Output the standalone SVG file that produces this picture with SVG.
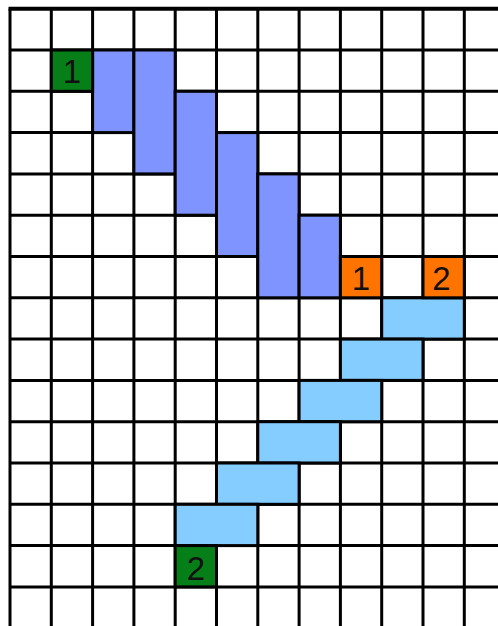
<svg xmlns="http://www.w3.org/2000/svg" width="498" height="626" viewBox="0 0 498 626">
<style>
.g{stroke:#000;stroke-width:3;fill:none}
.c{stroke:#000;stroke-width:3}
.bl{fill:#8094FF}
.lb{fill:#85CCFF}
.gr{fill:#077F19}
.or{fill:#FF7300}
.t{font-family:"Liberation Sans",Arial,sans-serif;font-size:33px;fill:#111;text-anchor:middle}
</style>
<rect x="0" y="0" width="498" height="626" fill="#fff"/>
<g id="grid" class="g">
<path d="M10 8.7V626M51.3 8.7V626M92.6 8.7V626M133.9 8.7V626M175.2 8.7V626M216.5 8.7V626M257.8 8.7V626M299.1 8.7V626M340.4 8.7V626M381.7 8.7V626M423 8.7V626M464.3 8.7V626"/>
<path d="M10 50H498M10 91.3H498M10 132.6H498M10 173.9H498M10 215.2H498M10 256.5H498M10 297.8H498M10 339.1H498M10 380.4H498M10 421.7H498M10 463H498M10 504.3H498M10 545.6H498M10 586.9H498"/>
<path d="M8.5 8.7H498" stroke-width="4"/>
</g>
<g id="blue-bars" class="c bl">
<rect x="92.6" y="50" width="41.3" height="82.6"/>
<rect x="133.9" y="50" width="41.3" height="123.9"/>
<rect x="175.2" y="91.3" width="41.3" height="123.9"/>
<rect x="216.5" y="132.6" width="41.3" height="123.9"/>
<rect x="257.8" y="173.9" width="41.3" height="123.9"/>
<rect x="299.1" y="215.2" width="41.3" height="82.6"/>
</g>
<g id="lightblue-bars" class="c lb">
<rect x="381.7" y="297.8" width="82.6" height="41.3"/>
<rect x="340.4" y="339.1" width="82.6" height="41.3"/>
<rect x="299.1" y="380.4" width="82.6" height="41.3"/>
<rect x="257.8" y="421.7" width="82.6" height="41.3"/>
<rect x="216.5" y="463" width="82.6" height="41.3"/>
<rect x="175.2" y="504.3" width="82.6" height="41.3"/>
</g>
<g id="green-1">
<rect class="c gr" x="51.3" y="50" width="41.3" height="41.3"/>
<text class="t" x="72" y="82.5">1</text>
</g>
<g id="orange-1">
<rect class="c or" x="340.4" y="256.5" width="41.3" height="41.3"/>
<text class="t" x="361" y="289.5">1</text>
</g>
<g id="orange-2">
<rect class="c or" x="423" y="256.5" width="41.3" height="41.3"/>
<text class="t" x="441.5" y="289.5">2</text>
</g>
<g id="green-2">
<rect class="c gr" x="175.2" y="545.6" width="41.3" height="41.3"/>
<text class="t" x="196" y="579.5">2</text>
</g>
</svg>
